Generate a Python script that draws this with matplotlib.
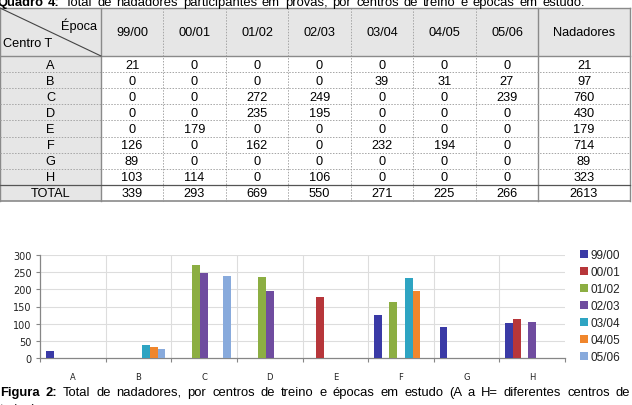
import matplotlib
matplotlib.use('Agg')
import matplotlib.pyplot as plt
import numpy as np

# ---------------- data ----------------
centres = ['A', 'B', 'C', 'D', 'E', 'F', 'G', 'H']
seasons = ['99/00', '00/01', '01/02', '02/03', '03/04', '04/05', '05/06']
s9900 = [21, 0, 0, 0, 0, 126, 89, 103]
s0001 = [0, 0, 0, 0, 179, 0, 0, 114]
s0102 = [0, 0, 272, 235, 0, 162, 0, 0]
s0203 = [0, 0, 249, 195, 0, 0, 0, 106]
s0304 = [0, 39, 0, 0, 0, 232, 0, 0]
s0405 = [0, 31, 0, 0, 0, 194, 0, 0]
s0506 = [0, 27, 239, 0, 0, 0, 0, 0]
row_totals = [21, 97, 760, 430, 179, 714, 89, 323]
col_totals = [339, 293, 669, 550, 271, 225, 266]
grand_total = 2613
series = [s9900, s0001, s0102, s0203, s0304, s0405, s0506]
colors = ['#3a3aa6', '#b7363a', '#8cae42', '#6f4c9f', '#2ea4c2', '#f0862c', '#88aadc']

caption_top = [('Quadro', 'bold'), ('4:', 'bold'), ('Total', 'normal'), ('de', 'normal'),
               ('nadadores', 'normal'), ('participantes', 'normal'), ('em', 'normal'),
               ('provas,', 'normal'), ('por', 'normal'), ('centros', 'normal'), ('de', 'normal'),
               ('treino', 'normal'), ('e', 'normal'), ('épocas', 'normal'), ('em', 'normal'),
               ('estudo.', 'normal')]
caption_bot = [('Figura', 'bold'), ('2:', 'bold'), ('Total', 'normal'), ('de', 'normal'),
               ('nadadores,', 'normal'), ('por', 'normal'), ('centros', 'normal'), ('de', 'normal'),
               ('treino', 'normal'), ('e', 'normal'), ('épocas', 'normal'), ('em', 'normal'),
               ('estudo', 'normal'), ('(A', 'normal'), ('a', 'normal'), ('H=', 'normal'),
               ('diferentes', 'normal'), ('centros', 'normal'), ('de', 'normal')]
caption_bot2 = 'treino).'

FONT = 'Liberation Sans'
W, H = 632, 406
fig = plt.figure(figsize=(W / 100, H / 100), dpi=100)
fig.patch.set_facecolor('white')

# full-figure axes in pixel units for table & captions
tax = fig.add_axes([0, 0, 1, 1])
tax.set_xlim(0, W)
tax.set_ylim(H, 0)
tax.axis('off')

# ---------------- table ----------------
col_edges = [0, 101, 163, 226, 288, 351, 413, 476, 538, 630]
top, hbot, bot = 9, 57, 202
nrows = 9
rh = (bot - hbot) / nrows
row_edges = [hbot + i * rh for i in range(nrows + 1)]
gray_fill = '#e6e6e6'
line_c = '#8a8a8a'

tax.fill_between([0, col_edges[-1]], top, hbot, color=gray_fill, lw=0, zorder=0)
tax.fill_between([0, col_edges[1]], hbot, bot, color=gray_fill, lw=0, zorder=0)

# vertical lines
for i, x in enumerate(col_edges):
    if i in (0, 1, 8, 9):
        tax.plot([x, x], [top, bot], color=line_c, lw=1.0, zorder=2)
    else:
        tax.plot([x, x], [top, bot], color='#a5a5a5', lw=0.7, ls=(0, (1.5, 1.5)), zorder=2)
# horizontal lines
tax.plot([0, col_edges[-1]], [top, top], color=line_c, lw=1.0, zorder=2)
tax.plot([0, col_edges[-1]], [hbot, hbot], color=line_c, lw=1.0, zorder=2)
for i in range(1, nrows):
    y = row_edges[i]
    if i == nrows - 1:
        tax.plot([0, col_edges[-1]], [y, y], color='#555555', lw=0.9, zorder=2)
    else:
        tax.plot([0, col_edges[-1]], [y, y], color='#a5a5a5', lw=0.7, ls=(0, (1.5, 1.5)), zorder=2)
tax.plot([0, col_edges[-1]], [bot, bot], color=line_c, lw=1.2, zorder=2)
# diagonal
tax.plot([0, col_edges[1]], [top, hbot], color='#444444', lw=0.8, zorder=2)

tfs = 9.2
tax.text(97, 26, 'Época', fontsize=tfs, family=FONT, ha='right', va='center')
tax.text(3, 44, 'Centro T', fontsize=tfs, family=FONT, ha='left', va='center')
headers = seasons + ['Nadadores']
for j, h in enumerate(headers):
    cx = (col_edges[j + 1] + col_edges[j + 2]) / 2
    tax.text(cx, (top + hbot) / 2 + 0.5, h, fontsize=tfs, family=FONT, ha='center', va='center')

row_labels = centres + ['TOTAL']
for i, lab in enumerate(row_labels):
    cy = (row_edges[i] + row_edges[i + 1]) / 2 + 0.5
    tax.text((col_edges[0] + col_edges[1]) / 2, cy, lab, fontsize=tfs, family=FONT,
             ha='center', va='center')
    if i < len(centres):
        vals = [s[i] for s in series] + [row_totals[i]]
    else:
        vals = col_totals + [grand_total]
    for j, v in enumerate(vals):
        cx = (col_edges[j + 1] + col_edges[j + 2]) / 2
        tax.text(cx, cy, str(v), fontsize=tfs, family=FONT, ha='center', va='center')

# ---------------- captions (justified) ----------------
fig.canvas.draw()
renderer = fig.canvas.get_renderer()


def justify(words, x0, x1, y, size):
    ts = []
    for w, wt in words:
        t = tax.text(0, y, w, fontsize=size, weight=wt, family=FONT, ha='left', va='baseline')
        ts.append(t)
    widths = [t.get_window_extent(renderer).width for t in ts]
    gap = (x1 - x0 - sum(widths)) / (len(ts) - 1)
    x = x0
    for t, wd in zip(ts, widths):
        t.set_x(x)
        x += wd + gap


justify(caption_top, -3, 585, 6, 9.4)
justify(caption_bot, 0, 630, 396, 9.4)
tax.text(0, 413, caption_bot2, fontsize=9.4, family=FONT, ha='left', va='baseline')

# ---------------- bar chart ----------------
ax = fig.add_axes([40 / W, (H - 359) / H, 525 / W, 103 / H])
x = np.arange(len(centres))
bw = 1 / 8.5
for k, (s, c, lab) in enumerate(zip(series, colors, seasons)):
    ax.bar(x + (k - 3) * bw, s, width=bw, color=c, label=lab, zorder=3, lw=0)

ax.set_xlim(-0.5, len(centres) - 0.5)
ax.set_ylim(0, 300)
ax.set_yticks(np.arange(0, 301, 50))
ax.set_xticks(x)
ax.set_xticklabels(centres, fontsize=6, family='DejaVu Sans', color='#222222')
ax.set_xticks(np.arange(-0.5, len(centres) - 0.4, 1), minor=True)
ax.tick_params(axis='x', which='major', length=0, pad=10)
ax.tick_params(axis='x', which='minor', length=3, width=0.8, color='#868686', direction='out')
ax.tick_params(axis='y', length=3, width=0.8, color='#868686', pad=3, labelsize=7,
               labelcolor='#222222')
for lab in ax.get_yticklabels():
    lab.set_family('DejaVu Sans')
for yv in np.arange(50, 301, 50):
    ax.axhline(yv, color='#dddddd', lw=0.8, zorder=1)
for xv in np.arange(0.5, len(centres) - 1, 1):
    ax.axvline(xv, color='#dddddd', lw=0.8, zorder=1)
for sp in ['top', 'right']:
    ax.spines[sp].set_visible(False)
for sp in ['left', 'bottom']:
    ax.spines[sp].set_color('#868686')
    ax.spines[sp].set_linewidth(0.9)

leg = ax.legend(loc='upper left', bbox_to_anchor=(580 / W, 1 - 250 / H),
                bbox_transform=fig.transFigure, frameon=False, borderpad=0,
                borderaxespad=0, handlelength=0.65, handleheight=0.65, handletextpad=0.25,
                labelspacing=0.42, prop={'family': FONT, 'size': 8.5})
for t in leg.get_texts():
    t.set_color('#222222')

fig.savefig('out.png', dpi=100, facecolor='white')
